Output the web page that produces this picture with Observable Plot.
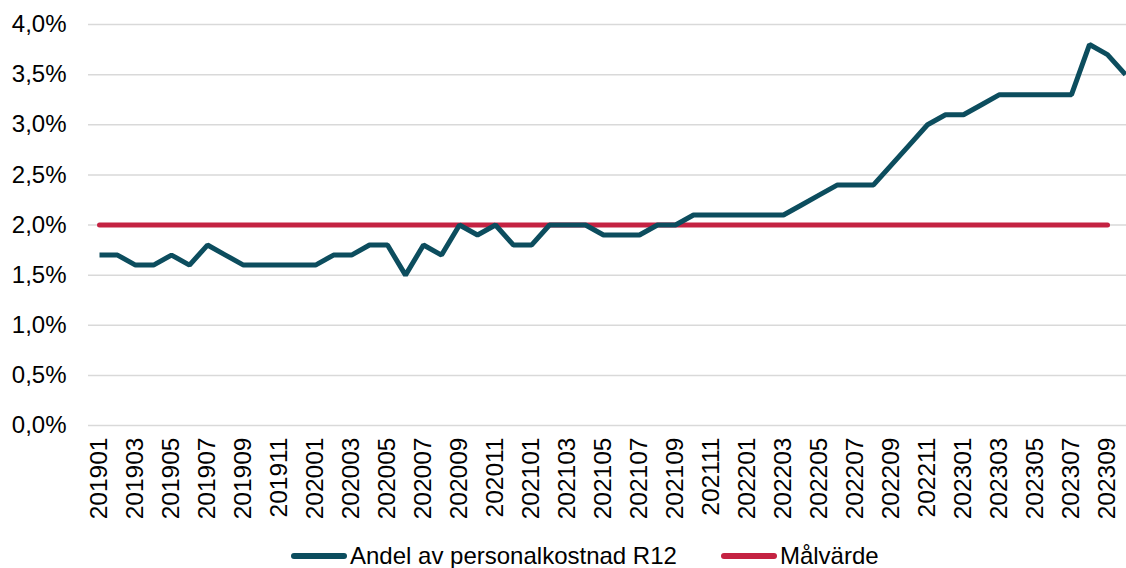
<!DOCTYPE html>
<html>
<head>
<meta charset="utf-8">
<script src="https://cdn.jsdelivr.net/npm/d3@7"></script>
<script src="https://cdn.jsdelivr.net/npm/@observablehq/plot@0.6"></script>
<style>
  html, body { margin: 0; padding: 0; background: #fff; overflow: hidden; }
  #wrap { position: relative; width: 1126px; height: 568px; overflow: hidden; font-family: "Liberation Sans", Arial, sans-serif; }
  #chart svg { overflow: hidden; display: block; }
  #legend { position: absolute; left: 291px; top: 540px; height: 32px; display: flex; align-items: center; font-size: 24px; color: #000; white-space: nowrap; }
  .sw { display: inline-block; width: 56px; height: 6px; border-radius: 3px; margin-right: 3px; }
</style>
</head>
<body>
<div id="wrap">
  <div id="chart"></div>
  <div id="legend"></div>
</div>
<script>
const months = [
  "201901","201902","201903","201904","201905","201906","201907","201908","201909","201910","201911","201912",
  "202001","202002","202003","202004","202005","202006","202007","202008","202009","202010","202011","202012",
  "202101","202102","202103","202104","202105","202106","202107","202108","202109","202110","202111","202112",
  "202201","202202","202203","202204","202205","202206","202207","202208","202209","202210","202211","202212",
  "202301","202302","202303","202304","202305","202306","202307","202308","202309","202310"
];
const andel = [
  1.7,1.7,1.6,1.6,1.7,1.6,1.8,1.7,1.6,1.6,1.6,1.6,
  1.6,1.7,1.7,1.8,1.8,1.5,1.8,1.7,2.0,1.9,2.0,1.8,
  1.8,2.0,2.0,2.0,1.9,1.9,1.9,2.0,2.0,2.1,2.1,2.1,
  2.1,2.1,2.1,2.2,2.3,2.4,2.4,2.4,2.6,2.8,3.0,3.1,
  3.1,3.2,3.3,3.3,3.3,3.3,3.3,3.8,3.7,3.5
];
const targetValue = 2.0;
const targetStart = "201901";
const targetEnd = "202309";
const yTicks = [0, 0.5, 1.0, 1.5, 2.0, 2.5, 3.0, 3.5, 4.0];
const xTickLabels = ["201901","201903","201905","201907","201909","201911","202001","202003","202005","202007","202009","202011","202101","202103","202105","202107","202109","202111","202201","202203","202205","202207","202209","202211","202301","202303","202305","202307","202309"];
const seriesNames = ["Andel av personalkostnad R12", "Målvärde"];
const colors = ["#0c4d5e", "#c42242"];

const mainData = months.map((m, i) => ({month: m, value: andel[i]}));
const iStart = months.indexOf(targetStart), iEnd = months.indexOf(targetEnd);
const targetData = months.slice(iStart, iEnd + 1).map(m => ({month: m, value: targetValue}));

const fmt = d => d.toFixed(1).replace(".", ",") + "%";

const plot = Plot.plot({
  width: 1126,
  height: 536,
  marginLeft: 88,
  marginRight: 0,
  marginTop: 24,
  marginBottom: 111,
  style: {fontFamily: "Liberation Sans, Arial, sans-serif", fontSize: "24px", color: "#000", background: "#fff"},
  x: {type: "point", domain: months, range: [95, 95 + 57 * 18.15], padding: 0, label: null},
  y: {domain: [0, 4], label: null},
  marks: [
    Plot.gridY(yTicks, {stroke: "#d9d9d9", strokeOpacity: 1, strokeWidth: 1.5}),
    Plot.axisY(yTicks, {tickSize: 0, tickPadding: 22, tickFormat: fmt, fontSize: 24, fill: "#000", label: null}),
    Plot.axisX(xTickLabels, {tickSize: 0, tickPadding: 12, tickRotate: -90, fontSize: 24.5, fill: "#000", label: null}),
    Plot.line(targetData, {x: "month", y: "value", stroke: colors[1], strokeWidth: 5, strokeLinecap: "round"}),
    Plot.line(mainData, {x: "month", y: "value", stroke: colors[0], strokeWidth: 5, strokeLinejoin: "miter", strokeLinecap: "butt"})
  ]
});
document.getElementById("chart").appendChild(plot);

const legend = document.getElementById("legend");
seriesNames.forEach((name, i) => {
  const item = document.createElement("span");
  item.style.display = "inline-flex";
  item.style.alignItems = "center";
  item.style.marginRight = i === 0 ? "44px" : "0";
  const sw = document.createElement("span");
  sw.className = "sw";
  sw.style.background = colors[i];
  const t = document.createElement("span");
  t.textContent = name;
  item.appendChild(sw);
  item.appendChild(t);
  legend.appendChild(item);
});
</script>
</body>
</html>
